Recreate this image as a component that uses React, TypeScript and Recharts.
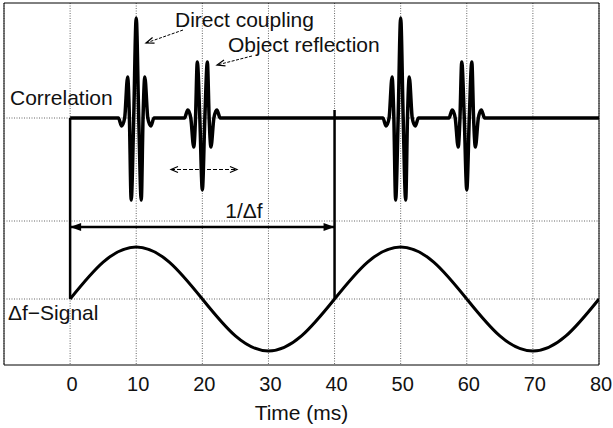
import React from "react";
import {
  LineChart,
  Line,
  XAxis,
  YAxis,
  CartesianGrid,
  ReferenceLine,
  ReferenceArea,
  ReferenceDot
} from "recharts";

const FONT = '"Liberation Sans", Arial, Helvetica, sans-serif';

const timeTicks = [0, 10, 20, 30, 40, 50, 60, 70, 80];

// wavelet shapes (ms offset from pulse centre), normalised to direct-coupling peak
const pulseOffsets = [-2.7, -2.2, -1.75, -1.3, -1.03, -0.76, -0.38, 0, 0.38, 0.76, 1.03, 1.3, 1.75, 2.2, 2.7];
const directShape = [0, -0.08, 0, 0.41, 0, -0.82, 0, 1.0, 0, -0.82, 0, 0.41, 0, -0.08, 0];
const objectShape = [0, 0.08, 0, -0.29, 0, 0.56, 0, -0.72, 0, 0.56, 0, -0.29, 0, 0.08, 0];
const directCenters = [10, 50];
const objectCenters = [20, 60];

// Δf signal read every 5 ms
const signalTimes = [0, 5, 10, 15, 20, 25, 30, 35, 40, 45, 50, 55, 60, 65, 70, 75, 80];
const signalValues = [0, 0.71, 1, 0.71, 0, -0.71, -1, -0.71, 0, 0.71, 1, 0.71, 0, -0.71, -1, -0.71, 0];

// vertical layout of the two traces
const Y_TOP = 3.62;
const CORR_BASE = 2.47;
const MID_GRID = 1.44;
const SIG_BASE = 0.66;
const SIG_AMP = 0.52;

const pulses = [
  ...directCenters.map((c) => ({ c, shape: directShape })),
  ...objectCenters.map((c) => ({ c, shape: objectShape }))
].sort((a, b) => a.c - b.c);

const corrData: { t: number; v: number }[] = [{ t: 0, v: CORR_BASE }];
pulses.forEach((p) =>
  pulseOffsets.forEach((o, i) => corrData.push({ t: p.c + o, v: CORR_BASE + p.shape[i] }))
);
corrData.push({ t: 80, v: CORR_BASE });

const sigData = signalTimes.map((t, i) => ({ t, v: SIG_BASE + SIG_AMP * signalValues[i] }));

type ArrowOpts = {
  start?: boolean;
  end?: boolean;
  dash?: string;
  sw: number;
  len: number;
  half: number;
  filled?: boolean;
};

const arrow = (o: ArrowOpts) => (p: any) => {
  const { x1, y1, x2, y2 } = p;
  const ang = Math.atan2(y2 - y1, x2 - x1);
  const head = (x: number, y: number, dir: number) => {
    const bx = x - o.len * Math.cos(dir);
    const by = y - o.len * Math.sin(dir);
    const px = -Math.sin(dir) * o.half;
    const py = Math.cos(dir) * o.half;
    const pts = `${bx + px},${by + py} ${x},${y} ${bx - px},${by - py}`;
    return o.filled ? (
      <polygon points={pts} fill="#000" />
    ) : (
      <polyline points={pts} fill="none" stroke="#000" strokeWidth={1.2} />
    );
  };
  return (
    <g>
      <line x1={x1} y1={y1} x2={x2} y2={y2} stroke="#000" strokeWidth={o.sw} strokeDasharray={o.dash} />
      {o.start && head(x1, y1, ang + Math.PI)}
      {o.end && head(x2, y2, ang)}
    </g>
  );
};

const label = (text: string, anchor: "start" | "middle" = "start") => (p: any) => (
  <text x={p.cx} y={p.cy} textAnchor={anchor} fontFamily={FONT} fontSize={21} fill="#111">
    {text}
  </text>
);

export default function App() {
  return (
    <div style={{ position: "absolute", left: 0, top: 0 }}>
      <LineChart width={613} height={428} margin={{ top: 3, right: 14, left: 4, bottom: 0 }}>
        <CartesianGrid
          horizontal={false}
          stroke="#666"
          strokeDasharray="1 1.5"
        />
        <XAxis
          dataKey="t"
          type="number"
          domain={[-10, 80]}
          ticks={timeTicks}
          allowDataOverflow
          height={63}
          axisLine={false}
          tickLine={false}
          tickSize={0}
          tickMargin={12}
          tick={{ fontSize: 20, fontFamily: FONT, fill: "#111", dx: 2 }}
          label={{
            value: "Time (ms)",
            position: "insideBottom",
            offset: 8,
            style: { fontSize: 21, fontFamily: FONT, fill: "#111" }
          }}
        />
        <YAxis type="number" domain={[0, Y_TOP]} hide allowDataOverflow />
        {[SIG_BASE, MID_GRID, CORR_BASE].map((y) => (
          <ReferenceLine key={y} y={y} stroke="#666" strokeDasharray="1 1.5" />
        ))}
        <ReferenceArea x1={-10} x2={80} y1={0} y2={Y_TOP} fill="none" stroke="#000" strokeWidth={1} />
        <Line
          data={sigData}
          dataKey="v"
          type="natural"
          stroke="#000"
          strokeWidth={3}
          dot={false}
          isAnimationActive={false}
        />
        <Line
          data={corrData}
          dataKey="v"
          type="monotone"
          stroke="#000"
          strokeWidth={3.5}
          dot={false}
          isAnimationActive={false}
        />
        <ReferenceLine segment={[{ x: 0, y: SIG_BASE }, { x: 0, y: CORR_BASE }]} stroke="#000" strokeWidth={2.5} />
        <ReferenceLine segment={[{ x: 40, y: SIG_BASE }, { x: 40, y: CORR_BASE + 0.08 }]} stroke="#000" strokeWidth={2.5} />
        <ReferenceLine
          segment={[{ x: 0, y: 1.38 }, { x: 40, y: 1.38 }]}
          shape={arrow({ start: true, end: true, sw: 2.5, len: 11, half: 4, filled: true })}
        />
        <ReferenceLine
          segment={[{ x: 15.26, y: 1.955 }, { x: 25.24, y: 1.955 }]}
          shape={arrow({ start: true, end: true, sw: 1.2, len: 7, half: 3, dash: "4 2" })}
        />
        <ReferenceLine
          segment={[{ x: 17.08, y: 3.35 }, { x: 11.48, y: 3.22 }]}
          shape={arrow({ end: true, sw: 1, len: 8, half: 3, dash: "3 1.5" })}
        />
        <ReferenceLine
          segment={[{ x: 27.51, y: 3.09 }, { x: 22.22, y: 3.0 }]}
          shape={arrow({ end: true, sw: 1, len: 8, half: 3, dash: "3 1.5" })}
        />
        <ReferenceDot x={15.87} y={3.38} r={0} ifOverflow="visible" shape={label("Direct coupling")} />
        <ReferenceDot x={23.88} y={3.13} r={0} ifOverflow="visible" shape={label("Object reflection")} />
        <ReferenceDot x={26.3} y={1.47} r={0} ifOverflow="visible" shape={label("1/Δf", "middle")} />
        <ReferenceDot x={-9.09} y={2.6} r={0} ifOverflow="visible" shape={label("Correlation")} />
        <ReferenceDot x={-9.4} y={0.45} r={0} ifOverflow="visible" shape={label("Δf−Signal")} />
      </LineChart>
    </div>
  );
}
